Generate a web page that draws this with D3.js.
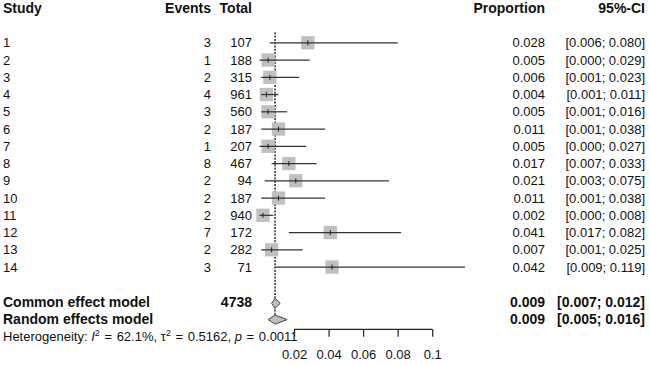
<!DOCTYPE html>
<html><head><meta charset="utf-8">
<script src="https://cdn.jsdelivr.net/npm/d3@7"></script>
<style>
html,body{margin:0;padding:0;background:#fff;}
text{font-family:"Liberation Sans",Arial,Helvetica,sans-serif;fill:#111;}
</style></head>
<body>
<svg id="chart" width="650" height="365"></svg>
<script>
// ---- data ----
const studies = ["1","2","3","4","5","6","7","8","9","10","11","12","13","14"];
const events  = [3,1,2,4,3,2,1,8,2,2,2,7,2,3];
const totals  = [107,188,315,961,560,187,207,467,94,187,940,172,282,71];
const props   = [0.028,0.005,0.006,0.004,0.005,0.011,0.005,0.017,0.021,0.011,0.002,0.041,0.007,0.042];
const lowers  = [0.006,0.000,0.001,0.001,0.001,0.001,0.000,0.007,0.003,0.001,0.000,0.017,0.001,0.009];
const uppers  = [0.080,0.029,0.023,0.011,0.016,0.038,0.027,0.033,0.075,0.038,0.008,0.082,0.025,0.119];
const summaryLabels = ["Common effect model","Random effects model"];
const summaryTotal  = 4738;
const summaryEst    = [0.009,0.009];
const summaryLower  = [0.007,0.005];
const summaryUpper  = [0.012,0.016];
const headers = ["Study","Events","Total","Proportion","95%-CI"];
const xTicks = [0.02,0.04,0.06,0.08,0.1];
const xTickLabels = ["0.02","0.04","0.06","0.08","0.1"];
const hetero = {I2:"62.1%", tau2:"0.5162", p:"0.0011"};

// ---- layout ----
const svg = d3.select("#chart");
const x = d3.scaleLinear().domain([0,0.1]).range([259.5,432.2]);
const row = d3.scaleLinear().domain([1,2]).range([42.8,60.05]); // row index -> center y
const fsReg = 13, fsBold = 14;
const base = (cy, fs) => cy + 0.358*fs;
const fmt3 = d3.format(".3f");

const headerY = row(-1);
const colX = {study:3, events:211, total:252, prop:545, ci:645};
function txt(xp, cy, s, opts={}){
  const fs = opts.bold ? fsBold : (opts.fs || fsReg);
  return svg.append("text").attr("x",xp).attr("y",base(cy,fs))
    .attr("font-size",fs).attr("font-weight",opts.bold?"bold":"normal")
    .attr("text-anchor",opts.anchor||"start").text(s);
}
txt(colX.study, headerY, headers[0], {bold:true});
txt(colX.events, headerY, headers[1], {bold:true, anchor:"end"});
txt(colX.total, headerY, headers[2], {bold:true, anchor:"end"});
txt(colX.prop, headerY, headers[3], {bold:true, anchor:"end"});
txt(colX.ci, headerY, headers[4], {bold:true, anchor:"end"});

// reference dashed line at pooled estimate
svg.append("line")
  .attr("x1",x(summaryEst[0])).attr("x2",x(summaryEst[0]))
  .attr("y1",row(1)-10.5).attr("y2",row(17)-4)
  .attr("stroke","#1a1a1a").attr("stroke-width",1.4).attr("stroke-dasharray","2,1.3");

// study rows
const sq = 13.3;
studies.forEach((s,i)=>{
  const cy = row(i+1);
  txt(colX.study, cy, s);
  txt(colX.events, cy, String(events[i]), {anchor:"end"});
  txt(colX.total, cy, String(totals[i]), {anchor:"end"});
  txt(colX.prop, cy, fmt3(props[i]), {anchor:"end"});
  txt(colX.ci, cy, "[" + fmt3(lowers[i]) + "; " + fmt3(uppers[i]) + "]", {anchor:"end"});
  svg.append("rect").attr("x",x(props[i])-sq/2).attr("y",cy-sq/2)
    .attr("width",sq).attr("height",sq).attr("fill","#c0c0c0");
  svg.append("line").attr("x1",x(lowers[i])).attr("x2",x(uppers[i]))
    .attr("y1",cy).attr("y2",cy).attr("stroke","#333").attr("stroke-width",1.2);
  svg.append("line").attr("x1",x(props[i])).attr("x2",x(props[i]))
    .attr("y1",cy-2.5).attr("y2",cy+2.5).attr("stroke","#222").attr("stroke-width",1);
});

// summary rows
summaryLabels.forEach((lab,j)=>{
  const cy = row(16+j);
  txt(colX.study, cy, lab, {bold:true});
  if(j===0) txt(colX.total, cy, String(summaryTotal), {bold:true, anchor:"end"});
  txt(colX.prop, cy, fmt3(summaryEst[j]), {bold:true, anchor:"end"});
  txt(colX.ci, cy, "[" + fmt3(summaryLower[j]) + "; " + fmt3(summaryUpper[j]) + "]", {bold:true, anchor:"end"});
  const dy = cy + (j===0 ? 1.8 : 0.8), h = j===0 ? 5 : 4.6;
  const pts = [[x(summaryLower[j]),dy],[x(summaryEst[j]),dy-h],[x(summaryUpper[j]),dy],[x(summaryEst[j]),dy+h]];
  svg.append("path").attr("d", d3.line()(pts)+"Z")
    .attr("fill","#bebebe").attr("stroke","#444").attr("stroke-width",1);
});

// heterogeneity text
const hy = row(18);
const hfs = 13;
const ht = svg.append("text").attr("x",3).attr("y",base(hy,hfs)).attr("font-size",hfs);
const eq = 1;
ht.append("tspan").text("Heterogeneity: ");
ht.append("tspan").attr("font-style","italic").text("I");
ht.append("tspan").attr("font-size",9).attr("dy",-5).text("2");
ht.append("tspan").attr("dy",5).attr("dx",eq).text(" =");
ht.append("tspan").attr("dx",eq).text(" " + hetero.I2 + ", \u03c4");
ht.append("tspan").attr("font-size",9).attr("dy",-5).text("2");
ht.append("tspan").attr("dy",5).attr("dx",eq).text(" =");
ht.append("tspan").attr("dx",eq).text(" " + hetero.tau2 + ", ");
ht.append("tspan").attr("font-style","italic").text("p");
ht.append("tspan").attr("dx",eq).text(" =");
ht.append("tspan").attr("dx",eq).text(" " + hetero.p);

// x axis
const axisY = 329.3;
const axis = d3.axisBottom(x).tickValues(xTicks).tickFormat((d,i)=>xTickLabels[i])
  .tickSize(7.5).tickSizeOuter(0).tickPadding(13);
const ag = svg.append("g").attr("transform",`translate(0,${axisY})`).call(axis);
ag.select(".domain").attr("d",`M${x(xTicks[0])},0H${x(xTicks[xTicks.length-1])}`)
  .attr("stroke","#222").attr("stroke-width",1.2);
ag.selectAll(".tick line").attr("stroke","#222").attr("stroke-width",1.2);
ag.selectAll(".tick text").attr("font-size",fsReg).attr("fill","#111")
  .attr("font-family","Liberation Sans, Arial, sans-serif");
</script>
</body></html>
